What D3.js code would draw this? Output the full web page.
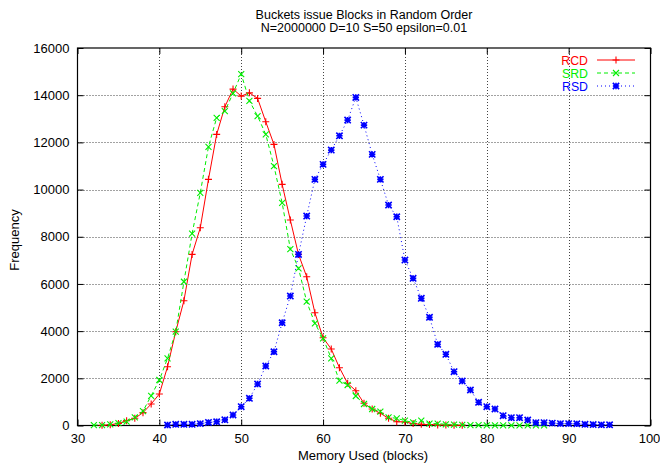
<!DOCTYPE html>
<html>
<head>
<meta charset="utf-8">
<script src="https://cdn.jsdelivr.net/npm/d3@7"></script>
<style>
  html, body { margin: 0; padding: 0; background: #fff; }
  svg { display: block; font-family: "Liberation Sans", Arial, Helvetica, sans-serif; }
</style>
</head>
<body>
<svg id="chart" width="660" height="465"></svg>
<script>
// Histogram of memory use (blocks) for three bucket strategies
const titleLines = ["Buckets issue Blocks in Random Order", "N=2000000 D=10 S=50 epsilon=0.01"];
const xLabel = "Memory Used (blocks)";
const yLabel = "Frequency";
const xTicks = [30, 40, 50, 60, 70, 80, 90, 100];
const yTicks = [0, 2000, 4000, 6000, 8000, 10000, 12000, 14000, 16000];

const rcdX = [33,34,35,36,37,38,39,40,41,42,43,44,45,46,47,48,49,50,51,52,53,54,55,56,57,58,59,60,61,62,63,64,65,66,67,68,69,70,71,72,73,74,75,76,77];
const rcdY = [10,30,90,205,305,544,911,1335,2492,3975,5289,7252,8381,10432,12338,13508,14258,13961,14100,13864,12873,11914,10220,8707,7252,6305,4780,3720,3241,2449,1788,1474,940,699,517,305,161,150,80,50,40,20,20,10,10];

const srdX = [32,33,34,35,36,37,38,39,40,41,42,43,44,45,46,47,48,49,50,51,52,53,54,55,56,57,58,59,60,61,62,63,64,65,66,67,68,69,70,71,72,73,74,75,76,77,78,79,80,81,82,83,84,85,86,87];
const srdY = [20,20,50,100,160,340,610,1260,1928,2847,3975,6093,8130,9864,11813,13042,13325,14076,14893,13762,13114,12338,10995,9440,7480,6660,5246,4330,3695,2847,1898,1716,1250,911,699,585,347,305,205,130,205,80,80,50,40,30,20,20,10,10,10,5,5,5,5,5];

const rsdX = [41,42,43,44,45,46,47,48,49,50,51,52,53,54,55,56,57,58,59,60,61,62,63,64,65,66,67,68,69,70,71,72,73,74,75,76,77,78,79,80,81,82,83,84,85,86,87,88,89,90,91,92,93,94,95];
const rsdY = [20,50,50,50,80,130,160,240,445,797,1152,1758,2521,3127,4356,5487,7252,8877,10432,11067,11673,12279,12944,13906,12732,11491,10432,9343,8847,7012,6237,5390,4584,3440,3017,2280,1886,1504,983,797,699,415,330,330,233,120,120,100,80,80,70,50,40,30,30];

const seriesNames = ["RCD", "SRD", "RSD"];
const seriesColors = ["#ff0000", "#00ee00", "#0000ff"];
const seriesDash = [null, "4,3", "1,3"];
const seriesX = [rcdX, srdX, rsdX];
const seriesY = [rcdY, srdY, rsdY];

const svg = d3.select("#chart");
const plotL = 77.5, plotR = 650.5, plotT = 48, plotB = 425.5;

const x = d3.scaleLinear().domain([30, 100]).range([plotL, plotR]);
const y = d3.scaleLinear().domain([0, 16000]).range([plotB, plotT]);

// Dotted grid at inner ticks
const grid = svg.append("g").attr("stroke", "#444").attr("stroke-width", 1).attr("stroke-dasharray", "1,2");
grid.selectAll("line.gx").data(xTicks.slice(1, -1)).join("line").attr("class", "gx")
  .attr("x1", d => Math.round(x(d)) + 0.5).attr("x2", d => Math.round(x(d)) + 0.5)
  .attr("y1", plotT).attr("y2", plotB);
grid.selectAll("line.gy").data(yTicks.slice(1, -1)).join("line").attr("class", "gy")
  .attr("y1", d => Math.round(y(d)) + 0.5).attr("y2", d => Math.round(y(d)) + 0.5)
  .attr("x1", plotL).attr("x2", plotR);

// Axes with inward ticks on all four sides
function styleAxis(g) {
  g.select(".domain").remove();
  g.selectAll(".tick line").attr("stroke", "#000");
  g.selectAll(".tick text").attr("fill", "#000").attr("font-size", 13)
    .attr("font-family", "Liberation Sans, Arial, sans-serif");
}
const xAxisG = svg.append("g").attr("transform", `translate(0,${plotB})`)
  .call(d3.axisBottom(x).tickValues(xTicks).tickSizeInner(-6).tickSizeOuter(0).tickPadding(8).tickFormat(d3.format("d")))
  .call(styleAxis);
// keep the last label inside the canvas
xAxisG.selectAll(".tick text").filter(d => d === 100).attr("dx", -1.5);
svg.append("g").attr("transform", `translate(0,${plotT})`)
  .call(d3.axisTop(x).tickValues(xTicks).tickSizeInner(-6).tickSizeOuter(0).tickFormat(""))
  .call(styleAxis);
svg.append("g").attr("transform", `translate(${plotL},0)`)
  .call(d3.axisLeft(y).tickValues(yTicks).tickSizeInner(-6).tickSizeOuter(0).tickPadding(8).tickFormat(d3.format("d")))
  .call(styleAxis);
svg.append("g").attr("transform", `translate(${plotR},0)`)
  .call(d3.axisRight(y).tickValues(yTicks).tickSizeInner(-6).tickSizeOuter(0).tickFormat(""))
  .call(styleAxis);

svg.append("rect").attr("x", plotL).attr("y", plotT).attr("width", plotR - plotL).attr("height", plotB - plotT)
  .attr("fill", "none").attr("stroke", "#000").attr("stroke-width", 1.2);

// Stroked point symbols: plus, cross, star
const plusSym = { draw(c, s) { const r = Math.sqrt(s) / 2; c.moveTo(-r, 0); c.lineTo(r, 0); c.moveTo(0, -r); c.lineTo(0, r); } };
const crossSym = { draw(c, s) { const r = Math.sqrt(s) / 2; c.moveTo(-r, -r); c.lineTo(r, r); c.moveTo(-r, r); c.lineTo(r, -r); } };
const starSym = { draw(c, s) { plusSym.draw(c, s); crossSym.draw(c, s); } };
const symbols = [d3.symbol(plusSym, 49), d3.symbol(crossSym, 36), d3.symbol(starSym, 40)];

const lineGen = d3.line().x(d => x(d[0])).y(d => y(d[1]));

seriesNames.forEach((name, i) => {
  const pts = seriesX[i].map((v, j) => [v, seriesY[i][j]]);
  const g = svg.append("g");
  g.append("path").datum(pts).attr("d", lineGen).attr("fill", "none")
    .attr("stroke", seriesColors[i]).attr("stroke-width", 1)
    .attr("stroke-dasharray", seriesDash[i]);
  g.selectAll("path.pt").data(pts).join("path").attr("class", "pt")
    .attr("transform", d => `translate(${x(d[0])},${y(d[1])})`)
    .attr("d", symbols[i]).attr("fill", "none")
    .attr("stroke", seriesColors[i]).attr("stroke-width", i === 2 ? 1.6 : 1.1);
});

// Legend
const legY = [64.5, 77.5, 90.5];
seriesNames.forEach((name, i) => {
  const ly = legY[i] - 4.5;
  svg.append("text").attr("x", 588).attr("y", legY[i]).attr("text-anchor", "end")
    .attr("font-size", 12.3).attr("fill", seriesColors[i]).text(name);
  svg.append("line").attr("x1", 597).attr("x2", 635).attr("y1", ly).attr("y2", ly)
    .attr("stroke", seriesColors[i]).attr("stroke-width", 1).attr("stroke-dasharray", seriesDash[i]);
  svg.append("path").attr("transform", `translate(616,${ly})`).attr("d", symbols[i])
    .attr("fill", "none").attr("stroke", seriesColors[i]).attr("stroke-width", i === 2 ? 1.6 : 1.1);
});

// Title and axis labels
svg.append("text").attr("x", 364).attr("y", 18.5).attr("text-anchor", "middle").attr("font-size", 12.5).text(titleLines[0]);
svg.append("text").attr("x", 364).attr("y", 32).attr("text-anchor", "middle").attr("font-size", 12.5).text(titleLines[1]);
svg.append("text").attr("x", 363).attr("y", 460).attr("text-anchor", "middle").attr("font-size", 13).text(xLabel);
svg.append("text").attr("transform", "translate(19,240) rotate(-90)").attr("text-anchor", "middle").attr("font-size", 13).text(yLabel);
</script>
</body>
</html>
